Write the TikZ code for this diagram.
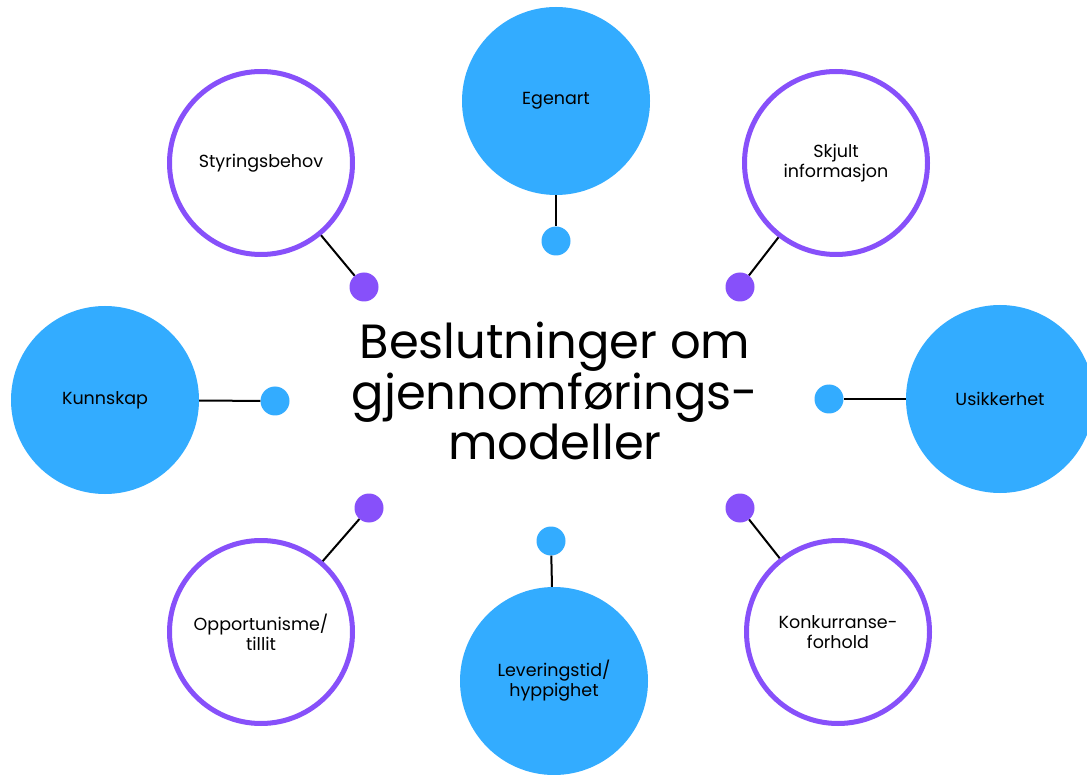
\documentclass[tikz,border=0pt]{standalone}
\usepackage{fontspec}
\setmainfont{Poppins}
\definecolor{skyblue}{RGB}{51,172,255}
\definecolor{ringpurple}{RGB}{135,80,250}
\begin{document}
\begin{tikzpicture}[x=1pt,y=-1pt,
  label/.style={align=center,font=\fontsize{17.5}{20}\selectfont},
  bluecirc/.style={label,circle,fill=skyblue,minimum size=188pt,inner sep=0pt},
  ringcirc/.style={label,circle,draw=ringpurple,line width=5pt,fill=white,minimum size=183pt,inner sep=0pt},
  bluedot/.style={circle,fill=skyblue,minimum size=29pt,inner sep=0pt},
  purpledot/.style={circle,fill=ringpurple,minimum size=29pt,inner sep=0pt},
  link/.style={line width=2pt,black}]
\useasboundingbox[fill=white] (0,0) rectangle (1087,775);

% central statement
\node[align=center,font=\fontsize{48}{48}\selectfont] (core) at (555,391)
  {Beslutninger om\\gjennomførings-\\modeller};

% surrounding factors
\node[bluecirc] (egen) at (556,101) {Egenart};
\node[ringcirc] (styr) at (261,163) {Styringsbehov};
\node[ringcirc] (skjult) at (836,163) {Skjult\\informasjon};
\node[bluecirc] (kunn) at (105,400) {Kunnskap};
\node[bluecirc] (usik) at (1000,399) {Usikkerhet};
\node[ringcirc] (opp) at (261,632) {Opportunisme/\\tillit};
\node[bluecirc] (lev) at (554,681) {Leveringstid/\\hyppighet};
\node[ringcirc] (konk) at (838,632) {Konkurranse-\\forhold};

% connector end dots
\node[bluedot] (d-egen) at (556,241) {};
\node[purpledot] (d-styr) at (364,287) {};
\node[purpledot] (d-skjult) at (740,287) {};
\node[bluedot] (d-kunn) at (275,401) {};
\node[bluedot] (d-usik) at (829,399) {};
\node[purpledot] (d-opp) at (369,508) {};
\node[bluedot] (d-lev) at (551,541) {};
\node[purpledot] (d-konk) at (740,508) {};

% connectors
\draw[link] (egen) -- (d-egen);
\draw[link] (styr) -- (d-styr);
\draw[link] (skjult) -- (d-skjult);
\draw[link] (kunn) -- (d-kunn);
\draw[link] (usik) -- (d-usik);
\draw[link] (opp) -- (d-opp);
\draw[link] (lev) -- (d-lev);
\draw[link] (konk) -- (d-konk);
\end{tikzpicture}
\end{document}
